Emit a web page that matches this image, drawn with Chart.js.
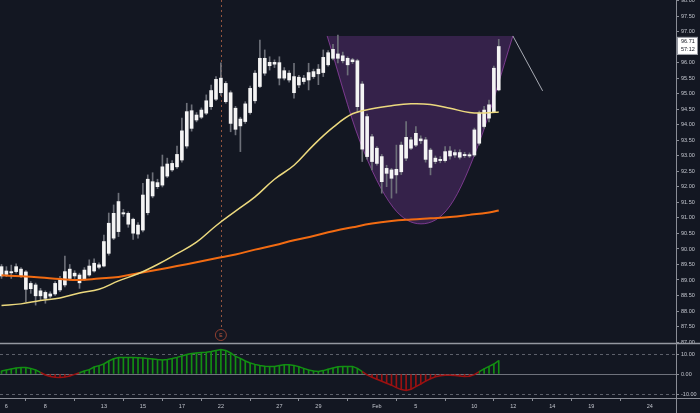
<!DOCTYPE html>
<html>
<head>
<meta charset="utf-8">
<script src="https://cdn.jsdelivr.net/npm/chart.js@4.4.1/dist/chart.umd.min.js"></script>
<style>
  html, body { margin: 0; padding: 0; background: #131722; }
  #wrap { width: 700px; height: 413px; }
</style>
</head>
<body>
<div id="wrap"><canvas id="chart" width="700" height="413"></canvas></div>
<script>
// candles, 4 bars per trading day
const barOpen = [
  89.13, 89.29, 89.23, 89.27, 89.35, 89.26, 88.72, 88.84, 88.49, 88.60,
  88.48, 88.55, 88.68, 88.84, 89.05, 89.22, 89.16, 89.02, 89.16, 89.29,
  89.49, 89.45, 89.86, 90.35, 90.56, 91.17, 91.15, 90.96, 90.48, 90.61,
  91.17, 92.17, 92.01, 92.06, 92.74, 92.55, 92.65, 92.87, 93.32, 94.46,
  94.16, 94.25, 94.38, 94.59, 94.83, 95.51, 95.34, 95.04, 94.54, 93.97,
  94.11, 94.40, 94.78, 95.24, 96.15, 95.91, 96.02, 96.01, 95.51, 95.67,
  95.56, 95.29, 95.51, 95.45, 95.56, 95.65, 95.69, 95.94, 96.15, 96.29,
  96.23, 96.15, 96.04, 96.07, 95.32, 94.27, 93.62, 93.25, 92.98, 92.44,
  92.55, 92.39, 92.49, 92.93, 93.52, 93.35, 93.55, 93.52, 93.19, 92.82,
  92.89, 92.85, 93.16, 93.03, 93.11, 93.01, 93.04, 93.03, 93.41, 94.48,
  94.22, 94.43, 95.13
];
const barHigh = [
  89.50, 89.43, 89.48, 89.52, 89.40, 89.30, 88.95, 88.90, 88.73, 88.65,
  88.62, 88.95, 89.12, 89.77, 89.50, 89.30, 89.22, 89.40, 89.65, 89.68,
  89.55, 90.45, 91.16, 91.42, 91.80, 91.28, 91.20, 91.00, 90.85, 92.12,
  92.39, 92.46, 92.25, 93.03, 92.93, 92.85, 93.32, 94.22, 94.70, 94.65,
  94.40, 94.55, 94.97, 95.29, 95.56, 96.00, 95.40, 95.10, 94.60, 94.25,
  94.75, 95.25, 95.75, 96.74, 96.42, 96.20, 96.10, 96.20, 95.85, 95.75,
  95.99, 95.60, 95.60, 95.99, 95.80, 95.95, 96.42, 96.40, 96.60, 96.90,
  96.35, 96.20, 96.15, 96.12, 95.40, 94.35, 93.70, 93.30, 93.05, 92.70,
  92.60, 93.35, 93.45, 94.11, 93.60, 93.95, 93.65, 93.60, 93.25, 93.00,
  92.98, 93.30, 93.30, 93.20, 93.20, 93.12, 93.10, 93.90, 94.45, 94.60,
  94.80, 95.90, 96.76
];
const barLow = [
  89.05, 89.11, 89.05, 89.22, 89.08, 88.30, 88.57, 88.19, 88.35, 88.25,
  88.42, 88.50, 88.62, 88.78, 88.98, 89.05, 88.73, 88.98, 89.12, 89.25,
  89.36, 89.42, 89.80, 90.30, 90.40, 91.05, 90.70, 90.31, 90.35, 90.55,
  91.10, 91.65, 91.95, 92.00, 92.30, 92.50, 92.60, 92.80, 93.25, 93.80,
  94.10, 94.20, 94.33, 94.50, 94.78, 94.95, 94.70, 93.78, 93.68, 93.14,
  94.05, 94.35, 94.70, 95.20, 95.60, 95.77, 95.85, 95.29, 95.45, 95.38,
  94.86, 95.20, 95.32, 95.13, 95.50, 95.30, 95.56, 95.90, 96.10, 96.00,
  96.00, 95.61, 95.98, 94.40, 92.82, 92.90, 92.55, 92.70, 91.80, 92.01,
  91.64, 91.80, 92.40, 92.85, 93.20, 93.30, 93.40, 92.80, 92.39, 92.75,
  92.78, 92.80, 92.90, 92.95, 92.90, 92.95, 92.95, 92.98, 93.35, 93.90,
  94.10, 94.40, 95.10
];
const barClose = [
  89.43, 89.18, 89.27, 89.43, 89.14, 88.70, 88.89, 88.49, 88.65, 88.41,
  88.55, 88.89, 89.05, 89.27, 89.35, 89.13, 88.91, 89.32, 89.45, 89.54,
  89.41, 90.24, 90.83, 91.15, 91.53, 91.13, 90.80, 90.51, 90.77, 91.74,
  92.25, 91.71, 92.14, 92.65, 92.35, 92.76, 93.05, 93.81, 94.43, 93.89,
  94.32, 94.48, 94.78, 95.11, 95.47, 95.04, 94.75, 94.05, 93.86, 94.19,
  94.68, 95.18, 95.67, 96.15, 95.67, 96.02, 95.96, 95.51, 95.75, 95.45,
  95.04, 95.54, 95.40, 95.69, 95.72, 95.80, 96.18, 96.33, 96.44, 96.15,
  96.07, 95.94, 96.10, 94.59, 93.22, 92.98, 92.82, 92.76, 92.17, 92.60,
  92.28, 92.57, 93.35, 93.60, 93.25, 93.73, 93.49, 92.89, 92.63, 92.93,
  92.85, 93.14, 93.00, 93.11, 92.96, 93.05, 93.00, 93.84, 94.38, 93.95,
  94.65, 95.83, 96.53
];

// moving averages, read once per day
const maIdx = [0, 4, 8, 12, 16, 20, 24, 28, 32, 36, 40, 44, 48, 52, 56, 60, 64, 68, 72, 76, 80, 84, 88, 92, 96, 100, 102];
const maFast = [88.18, 88.23, 88.34, 88.42, 88.58, 88.70, 88.97, 89.20, 89.50, 89.85, 90.22, 90.75, 91.22, 91.68, 92.25, 92.70, 93.35, 93.92, 94.36, 94.52, 94.62, 94.68, 94.66, 94.54, 94.40, 94.39, 94.42];
const maSlow = [89.15, 89.12, 89.08, 89.03, 89.00, 89.05, 89.10, 89.22, 89.33, 89.45, 89.57, 89.70, 89.82, 89.98, 90.12, 90.28, 90.42, 90.57, 90.70, 90.82, 90.90, 90.95, 90.99, 91.03, 91.10, 91.18, 91.24];

// oscillator histogram, one value per bar
const oscValues = [
  1.5, 2, 2.5, 3, 3.3, 3.2, 2.8, 2, 0.8, -0.5,
  -1.2, -1.6, -1.8, -1.5, -1, -0.2, 0.6, 1.5, 2.2, 3.5,
  4.2, 5.0, 6.5, 7.6, 8.2, 8.3, 8.3, 8.2, 8.1, 8,
  7.8, 7.5, 7.2, 7, 7.2, 7.7, 8.3, 9, 9.7, 10.2,
  10.5, 10.7, 10.9, 11.2, 11.8, 12.3, 11.8, 10.5, 8.8, 7.8,
  6.5, 5.5, 4.8, 4.2, 3.9, 3.7, 3.8, 4.2, 4.6, 4.6,
  4.3, 3.6, 2.8, 2, 1.5, 1.2, 1.7, 2.4, 3, 3.6,
  3.8, 3.8, 3.8, 2.8, 1.2, -0.4, -1.6, -2.6, -3.6, -4.6,
  -5.6, -6.8, -7.8, -8.2, -7.6, -6.3, -5, -3.6, -2.4, -1.4,
  -0.9, -0.6, -0.6, -0.7, -1, -1.3, -1.1, -0.3, 1.2, 2.6,
  3.8, 5, 6.7
];
const oscLevels = [10, 0, -10];

// cup drawing and handle line
const cupIdx = [66.8, 73.5, 80.3, 86.05, 92.0, 98.2, 104.9];
const cupPrice = [96.87, 93.48, 91.35, 90.81, 91.39, 93.52, 96.87];
const cupRim = 96.87;
const handleIdx = [104.9, 111.0];
const handlePrice = [96.87, 95.10];

// time axis
const dayIdx = [1, 9, 21, 29, 37, 45, 57, 65, 77, 85, 97, 105, 113, 121, 133];
const dayLabels = ['6', '8', '13', '15', '17', '22', '27', '29', 'Feb', '5', '10', '12', '14', '19', '24'];

const earningsIdx = 45;
const lastPrice = 96.71;
const countdown = '57:12';

const bg = '#131722';
const textColor = '#c3c6ce';
const axisColor = '#8a8d96';
const green = '#138f13';
const red = '#9a1111';
const fontFamily = '"Liberation Sans", Arial, sans-serif';

const idx = barOpen.map((_, i) => i);

const panePlugin = {
  id: 'panes',
  beforeDraw(chart) {
    const ctx = chart.ctx;
    ctx.save();
    ctx.fillStyle = bg;
    ctx.fillRect(0, 0, chart.width, chart.height);
    ctx.restore();
  },
  beforeDatasetsDraw(chart) {
    const { ctx, chartArea, scales } = chart;
    const x = scales.x, y2 = scales.y2, y = scales.y;
    ctx.save();
    // oscillator levels
    oscLevels.forEach(v => {
      const py = Math.round(y2.getPixelForValue(v)) + 0.5;
      ctx.strokeStyle = v === 0 ? '#6f727c' : '#5d606b';
      ctx.lineWidth = 1;
      ctx.setLineDash(v === 0 ? [] : [3, 3]);
      ctx.beginPath();
      ctx.moveTo(chartArea.left, py);
      ctx.lineTo(chartArea.right, py);
      ctx.stroke();
    });
    // earnings line
    const ex = Math.round(x.getPixelForValue(earningsIdx)) + 0.5;
    ctx.strokeStyle = 'rgba(190, 105, 75, 0.75)';
    ctx.setLineDash([2, 3]);
    ctx.beginPath();
    ctx.moveTo(ex, y.top);
    ctx.lineTo(ex, y.bottom - 13);
    ctx.stroke();
    ctx.restore();
  },
  afterDraw(chart) {
    const { ctx, chartArea, scales } = chart;
    const x = scales.x, y = scales.y;
    ctx.save();
    // pane separator
    ctx.strokeStyle = '#9598a1';
    ctx.lineWidth = 1.5;
    ctx.beginPath();
    ctx.moveTo(0, y.bottom + 0.5);
    ctx.lineTo(chart.width, y.bottom + 0.5);
    ctx.stroke();
    // axis lines
    ctx.lineWidth = 1;
    ctx.strokeStyle = axisColor;
    ctx.beginPath();
    ctx.moveTo(chartArea.right + 0.5, 0);
    ctx.lineTo(chartArea.right + 0.5, chart.height);
    ctx.moveTo(0, chartArea.bottom + 0.5);
    ctx.lineTo(chart.width, chartArea.bottom + 0.5);
    ctx.stroke();
    // earnings marker
    const ex = x.getPixelForValue(earningsIdx);
    const ey = y.bottom - 8;
    ctx.beginPath();
    ctx.arc(ex, ey, 5.5, 0, Math.PI * 2);
    ctx.fillStyle = bg;
    ctx.fill();
    ctx.strokeStyle = '#8e3f30';
    ctx.stroke();
    ctx.fillStyle = '#c25a3e';
    ctx.font = '5px ' + fontFamily;
    ctx.textAlign = 'center';
    ctx.textBaseline = 'middle';
    ctx.fillText('E', ex, ey + 0.5);
    // last price label
    const py = y.getPixelForValue(lastPrice);
    const bx = chartArea.right + 1;
    ctx.fillStyle = '#ffffff';
    ctx.fillRect(bx, py - 4, 21, 18);
    ctx.strokeStyle = '#9598a1';
    ctx.strokeRect(bx + 0.5, py - 3.5, 20, 17);
    ctx.fillStyle = '#131722';
    ctx.font = '5.5px ' + fontFamily;
    ctx.textAlign = 'left';
    ctx.fillText(lastPrice.toFixed(2), bx + 4, py + 1);
    ctx.fillText(countdown, bx + 4, py + 9);
    ctx.restore();
  }
};

const tickFont = { family: fontFamily, size: 5.5 };

new Chart(document.getElementById('chart'), {
  type: 'bar',
  data: {
    datasets: [
      {
        type: 'line',
        yAxisID: 'y',
        data: cupIdx.map((v, k) => ({ x: v, y: cupPrice[k] })),
        borderColor: 'rgba(160, 70, 180, 0.7)',
        borderWidth: 1,
        backgroundColor: 'rgba(126, 60, 160, 0.32)',
        fill: { value: cupRim },
        cubicInterpolationMode: 'monotone',
        pointRadius: 0,
        order: 10
      },
      {
        type: 'line',
        yAxisID: 'y',
        data: handleIdx.map((v, k) => ({ x: v, y: handlePrice[k] })),
        borderColor: '#a9acb5',
        borderWidth: 1,
        pointRadius: 0,
        order: 9
      },
      {
        type: 'line',
        yAxisID: 'y',
        data: maIdx.map((v, k) => ({ x: v, y: maSlow[k] })),
        borderColor: '#f26b12',
        borderWidth: 2,
        pointRadius: 0,
        tension: 0.4,
        order: 3
      },
      {
        type: 'line',
        yAxisID: 'y',
        data: maIdx.map((v, k) => ({ x: v, y: maFast[k] })),
        borderColor: '#ecd97e',
        borderWidth: 1.5,
        pointRadius: 0,
        tension: 0.4,
        order: 2
      },
      {
        yAxisID: 'y',
        data: idx.map(i => ({ x: i, y: [barLow[i], barHigh[i]] })),
        backgroundColor: '#6d7079',
        barThickness: 1,
        grouped: false,
        order: 5
      },
      {
        yAxisID: 'y',
        data: idx.map(i => ({ x: i, y: [Math.min(barOpen[i], barClose[i]), Math.max(barOpen[i], barClose[i])] })),
        backgroundColor: '#f4f4f4',
        barThickness: 3,
        minBarLength: 1,
        grouped: false,
        order: 4
      },
      {
        yAxisID: 'y2',
        data: idx.map(i => ({ x: i, y: oscValues[i] })),
        backgroundColor: oscValues.map(v => v >= 0 ? green : red),
        barThickness: 1,
        grouped: false,
        order: 7
      },
      {
        type: 'line',
        yAxisID: 'y2',
        data: idx.map(i => ({ x: i, y: oscValues[i] })),
        borderColor: green,
        borderWidth: 1.5,
        pointRadius: 0,
        segment: {
          borderColor: c => (c.p0.parsed.y < 0 || c.p1.parsed.y < 0) ? red : green
        },
        order: 6
      }
    ]
  },
  options: {
    responsive: false,
    animation: false,
    devicePixelRatio: 1,
    layout: { padding: 0 },
    plugins: { legend: { display: false }, tooltip: { enabled: false } },
    scales: {
      x: {
        type: 'linear',
        offset: false,
        min: -0.31,
        max: 138.36,
        grid: { display: true, drawOnChartArea: false, drawTicks: true, tickLength: 3, color: axisColor },
        border: { display: false },
        ticks: {
          autoSkip: false,
          maxRotation: 0,
          color: textColor,
          font: tickFont,
          padding: 2,
          callback: v => dayLabels[dayIdx.indexOf(v)] || ''
        },
        afterBuildTicks: s => { s.ticks = dayIdx.map(v => ({ value: v })); },
        afterFit: s => { s.height = 15; s.paddingLeft = 0; s.paddingRight = 0; }
      },
      y: {
        type: 'linear',
        position: 'right',
        stack: 'panes',
        stackWeight: 343,
        min: 86.968,
        max: 98.03,
        grid: { display: true, drawOnChartArea: false, drawTicks: true, tickLength: 3, color: axisColor },
        border: { display: false },
        ticks: {
          stepSize: 0.5,
          maxTicksLimit: 100,
          autoSkip: false,
          includeBounds: false,
          color: textColor,
          font: tickFont,
          padding: 2,
          callback: v => v.toFixed(2)
        },
        afterFit: s => { s.width = 24; s.paddingTop = 0; s.paddingBottom = 0; }
      },
      y2: {
        type: 'linear',
        position: 'right',
        stack: 'panes',
        stackWeight: 55,
        min: -12,
        max: 15.5,
        grid: { display: true, drawOnChartArea: false, drawTicks: true, tickLength: 3, color: axisColor },
        border: { display: false },
        ticks: {
          autoSkip: false,
          includeBounds: false,
          color: textColor,
          font: tickFont,
          padding: 2,
          callback: v => v.toFixed(2)
        },
        afterBuildTicks: s => { s.ticks = oscLevels.map(v => ({ value: v })); },
        afterFit: s => { s.width = 24; s.paddingTop = 0; s.paddingBottom = 0; }
      }
    }
  },
  plugins: [panePlugin]
});
</script>
</body>
</html>
